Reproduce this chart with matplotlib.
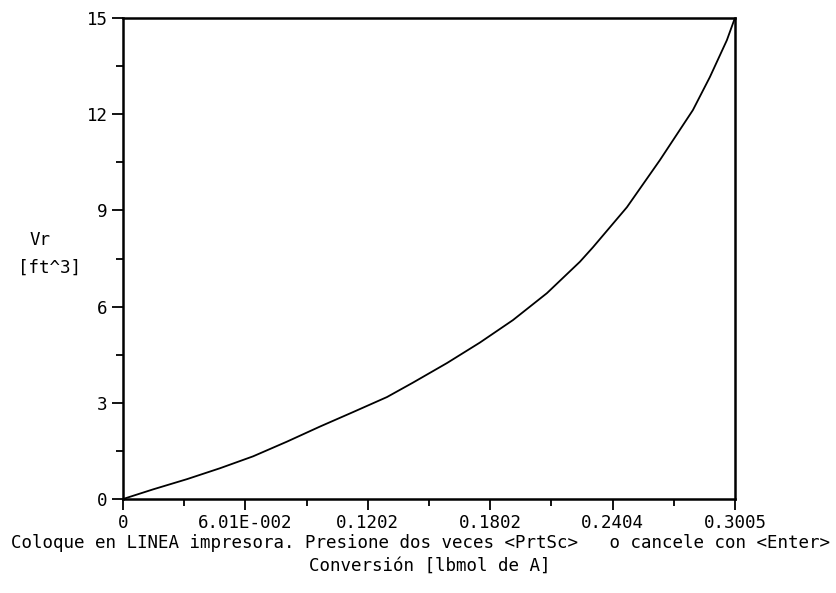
import matplotlib
matplotlib.use("Agg")
import matplotlib.pyplot as plt
import numpy as np

# conversion vs reactor volume
conversion = [0.0, 0.01473, 0.03143, 0.04763, 0.06383, 0.08053, 0.09673, 0.11293,
              0.12963, 0.14239, 0.15909, 0.17529, 0.19149, 0.20818, 0.22439,
              0.23077, 0.24746, 0.26367, 0.27987, 0.28821, 0.29656, 0.3005]
volume = [0.0, 0.30, 0.62, 0.96, 1.33, 1.79, 2.26, 2.71, 3.18, 3.63,
          4.24, 4.88, 5.58, 6.42, 7.40, 7.85, 9.10, 10.57, 12.13,
          13.16, 14.31, 15.0]

xticks = [0.0, 0.0601, 0.1202, 0.1802, 0.2404, 0.3005]
xticklabels = ["0", "6.01E-002", "0.1202", "0.1802", "0.2404", "0.3005"]
yticks = [0, 3, 6, 9, 12, 15]
yticklabels = ["0", "3", "6", "9", "12", "15"]

mono = "DejaVu Sans Mono"
fs = 12.6

fig = plt.figure(figsize=(8.37, 5.93), dpi=100)
ax = fig.add_axes([0.147, 0.1585, 0.731, 0.811])

ax.plot(conversion, volume, color="black", lw=1.3)

ax.set_xlim(0, 0.3005)
ax.set_ylim(0, 15)
ax.set_xticks(xticks)
ax.set_xticklabels(xticklabels, family=mono, fontsize=fs)
ax.set_yticks(yticks)
ax.set_yticklabels(yticklabels, family=mono, fontsize=fs)
ax.set_xticks(np.array(xticks[:-1]) + 0.03005, minor=True)
ax.set_yticks(np.array(yticks[:-1]) + 1.5, minor=True)
ax.tick_params(which="major", direction="out", length=8, width=1.3, colors="black", pad=3)
ax.tick_params(which="minor", direction="out", length=5, width=1.3)
for s in ax.spines.values():
    s.set_linewidth(1.8)

fig.text(40 / 837, 1 - 240 / 593, "Vr", family=mono, fontsize=fs, ha="center", va="center")
fig.text(50 / 837, 1 - 268 / 593, "[ft^3]", family=mono, fontsize=fs, ha="center", va="center")

fig.text(421 / 837, 1 - 543 / 593,
         "Coloque en LINEA impresora. Presione dos veces <PrtSc>   o cancele con <Enter>",
         family=mono, fontsize=fs, ha="center", va="center")
fig.text(430 / 837, 1 - 566 / 593, "Conversión [lbmol de A]",
         family=mono, fontsize=fs, ha="center", va="center")

fig.savefig("out.png", dpi=100)
